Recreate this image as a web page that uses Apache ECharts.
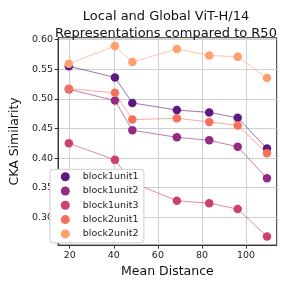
<!DOCTYPE html>
<html><head><meta charset="utf-8">
<script src="https://cdn.jsdelivr.net/npm/echarts@6/dist/echarts.min.js"></script>
<style>html,body{margin:0;padding:0;background:#fff}#c{width:283px;height:283px}</style>
</head><body><div id="c"></div>
<script>
const meanDistance = [19.6, 40.5, 48.4, 68.6, 83.3, 96.2, 109.5];
const block1unit1 = [0.555, 0.536, 0.493, 0.481, 0.477, 0.468, 0.416];
const block1unit2 = [0.516, 0.497, 0.447, 0.435, 0.430, 0.419, 0.366];
const block1unit3 = [0.425, 0.397, 0.359, 0.328, 0.324, 0.314, 0.268];
const block2unit1 = [0.517, 0.510, 0.465, 0.467, 0.461, 0.455, 0.408];
const block2unit2 = [0.559, 0.589, 0.562, 0.584, 0.573, 0.571, 0.535];
const seriesNames = ['block1unit1','block1unit2','block1unit3','block2unit1','block2unit2'];
const seriesValues = [block1unit1, block1unit2, block1unit3, block2unit1, block2unit2];
const colors = ['#5f187f','#932b80','#cd4071','#f7705c','#fe9f6d'];
const xTicks = [20, 40, 60, 80, 100];
const yTicks = [0.30, 0.35, 0.40, 0.45, 0.50, 0.55, 0.60];

const FONT = 'DejaVu Sans';
const chart = echarts.init(document.getElementById('c'), null, {renderer:'canvas'});
const axisCommon = {
  axisLine:{show:true, onZero:false, lineStyle:{color:'#333', width:1}},
  splitLine:{show:true, lineStyle:{color:'#d0d0d0', width:1}},
  nameTextStyle:{fontFamily:FONT, fontSize:12.5, color:'#111'}
};
chart.setOption({
  animation:false,
  backgroundColor:'#fff',
  title:{
    text:'Local and Global ViT-H/14\nRepresentations compared to R50',
    left:161, top:3.5, textAlign:'center',
    textStyle:{fontFamily:FONT, fontSize:13, fontWeight:'normal', color:'#111', lineHeight:16.7}
  },
  grid:{left:46, right:6.3, top:37.7, bottom:36, show:true, borderColor:'#333', borderWidth:1, containLabel:false},
  xAxis:Object.assign({}, axisCommon, {
    type:'value', min:14.7, max:113.9,
    name:'Mean Distance', nameLocation:'middle', nameGap:16,
    axisTick:{show:true, length:3.5, lineStyle:{color:'#333'}, customValues:xTicks},
    axisLabel:{customValues:xTicks, fontFamily:FONT, fontSize:9.5, color:'#222', margin:5}
  }),
  yAxis:Object.assign({}, axisCommon, {
    type:'value', min:0.2533, max:0.603,
    name:'CKA Similarity', nameLocation:'middle', nameGap:34,
    axisTick:{show:true, length:3.5, lineStyle:{color:'#333'}, customValues:yTicks},
    axisLabel:{customValues:yTicks, fontFamily:FONT, fontSize:9.5, color:'#222', margin:5,
      formatter:v=>v.toFixed(2)}
  }),
  legend:{
    left:50, top:169.3, orient:'vertical', z:20, zlevel:1,
    icon:'circle', itemWidth:9, itemHeight:9, itemGap:4.3,
    padding:[2.4,5.4,4,10.8],
    backgroundColor:'#ffffff', borderColor:'#cccccc', borderWidth:1, borderRadius:3,
    textStyle:{fontFamily:FONT, fontSize:9.5, color:'#222', lineHeight:10, padding:[0,0,0,8]},
    data:seriesNames
  },
  series:seriesNames.map((n,i)=>({
    name:n, type:'line', color:colors[i],
    data:meanDistance.map((x,j)=>[x, seriesValues[i][j]]),
    symbol:'circle', symbolSize:8.5,
    itemStyle:{color:colors[i]},
    lineStyle:{color:colors[i], width:1, opacity:0.6},
    z:2+i
  }))
});
</script></body></html>
